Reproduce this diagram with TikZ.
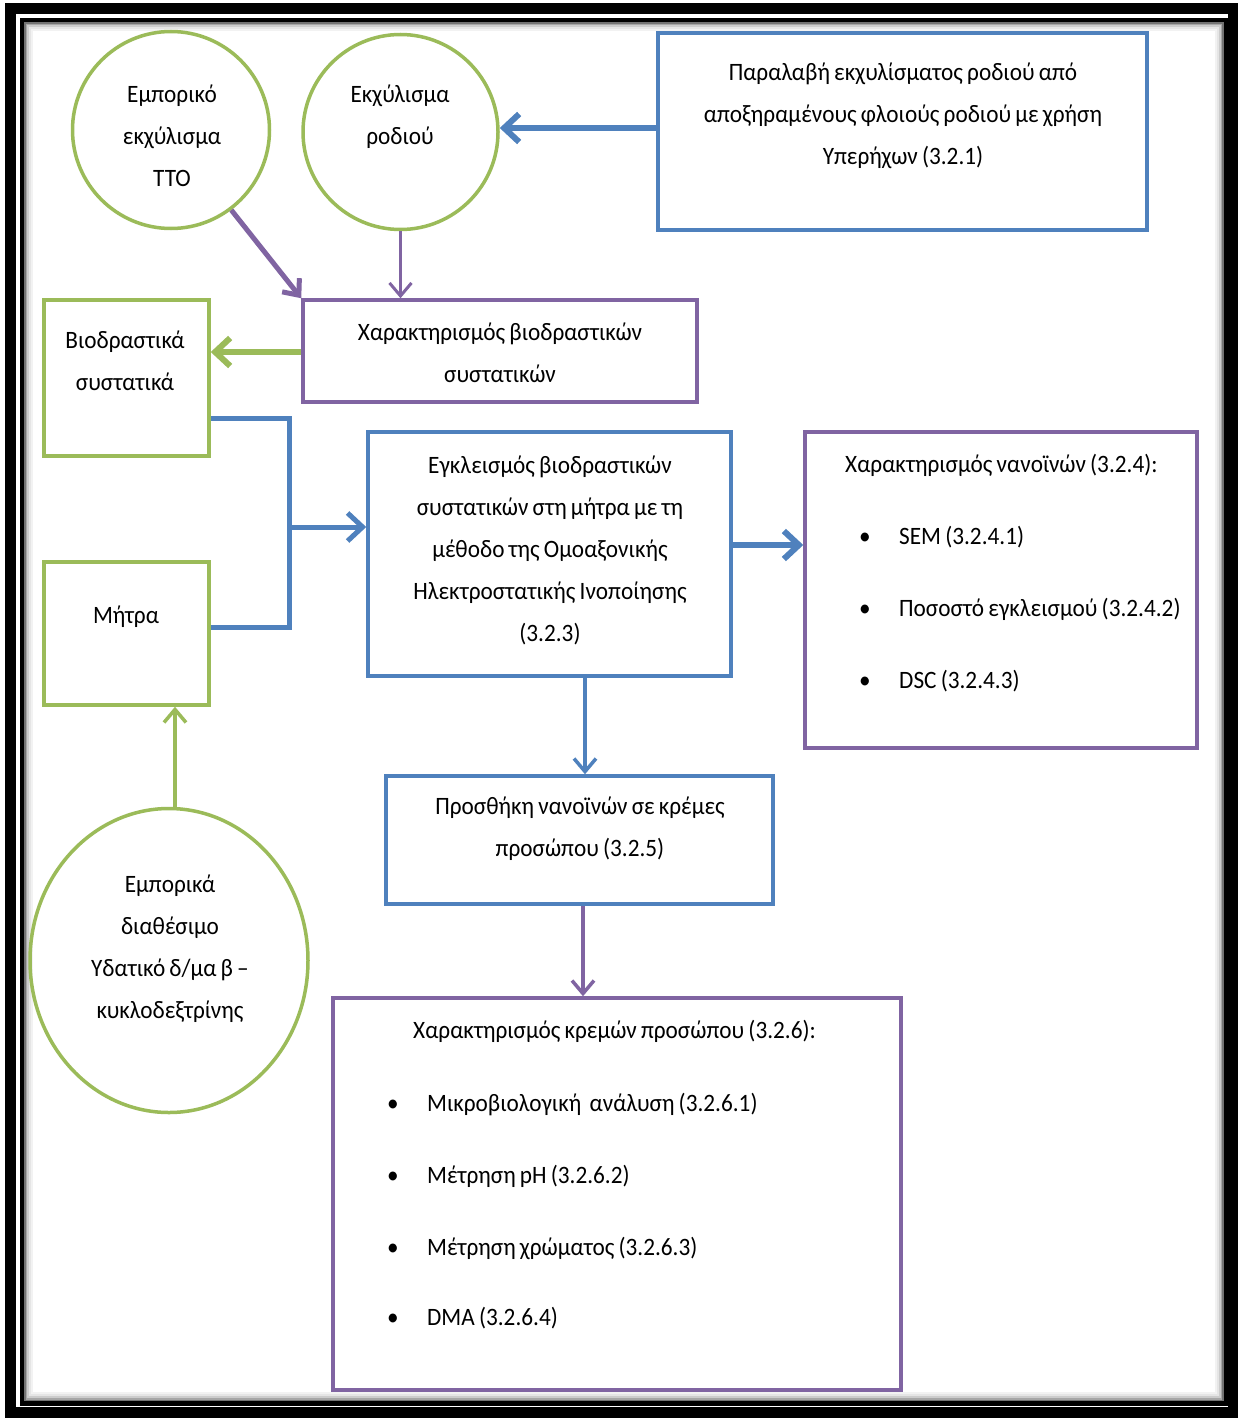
\documentclass[tikz,border=0pt]{standalone}
\usepackage{fontspec}
\setmainfont[FakeStretch=0.93,WordSpace=0.8]{Carlito}
\usetikzlibrary{arrows.meta,shapes.geometric,calc}
\definecolor{oblue}{HTML}{4F81BD}
\definecolor{ogreen}{HTML}{9BBB59}
\definecolor{opurple}{HTML}{8064A2}
\begin{document}
\begin{tikzpicture}[x=1pt,y=-1pt,
  bx/.style={draw=#1, line width=3.5pt, rectangle, inner sep=0},
  circ/.style={draw=ogreen, line width=3.5pt, circle, inner sep=0},
  txt/.style={inner sep=0, align=center, text=black, font=\fontsize{25}{42}\selectfont},
  ltxt/.style={inner sep=0, anchor=west, text=black, font=\fontsize{25}{42}\selectfont},
  bigarr/.style={draw=#1, line width=6pt, -{Straight Barb[length=15pt,width=28pt]}},
  smallarr/.style={draw=#1, line width=3.5pt, -{Straight Barb[length=13pt,width=22pt]}},
]
% page and frame
\fill[white] (0,0) rectangle (1238,1418);
\useasboundingbox (0,0) rectangle (1238,1418);
\draw[line width=11pt] (10,9) rectangle (1233,1412);
\foreach \d/\g in {10/5,8/10,6/20,4/35,2.5/55}{
  \draw[line width=2.2pt, black!\g!white] ($(22,20)+(\d,\d)$) rectangle ($(1226,1403.5)+(-\d,-\d)$);
}
\draw[line width=4.5pt] (22,20) rectangle (1226,1403.5);

% circles
\node[circ, minimum size=197pt] (tto) at (171,130) {};
\node[circ, minimum size=195pt] (rod) at (400.5,132) {};
\node[draw=ogreen, line width=3.5pt, ellipse, inner sep=0, minimum width=278pt, minimum height=304pt] (bc) at (169,960.5) {};

% boxes
\node[bx=oblue, minimum width=489pt, minimum height=197pt] (par) at (902.5,131.5) {};
\node[bx=opurple, minimum width=394pt, minimum height=102pt] (cb) at (500,351) {};
\node[bx=ogreen, minimum width=165pt, minimum height=156pt] (bio) at (126.5,378) {};
\node[bx=ogreen, minimum width=165pt, minimum height=143pt] (mat) at (126.5,633.5) {};
\node[bx=oblue, minimum width=363pt, minimum height=244pt] (enc) at (549.5,554) {};
\node[bx=opurple, minimum width=392pt, minimum height=316pt] (nan) at (1001,590) {};
\node[bx=oblue, minimum width=387pt, minimum height=128pt] (pros) at (579.5,840) {};
\node[bx=opurple, minimum width=568pt, minimum height=392pt] (crem) at (617,1194) {};

% texts
\node[txt] (ttot) at (172,136) {Εμπορικό\\εκχύλισμα\\TTO};
\node[txt] (rodt) at (400,116.5) {Εκχύλισμα\\ροδιού};
\node[txt] (part) at (903,115.5) {Παραλαβή εκχυλίσματος ροδιού από\\αποξηραμένους φλοιούς ροδιού με χρήση\\Υπερήχων (3.2.1)};
\node[txt] (cbt) at (500,353) {Χαρακτηρισμός βιοδραστικών\\συστατικών};
\node[txt] (biot) at (125,360.5) {Βιοδραστικά\\συστατικά};
\node[txt] (matt) at (126,617) {Μήτρα};
\node[txt] (enct) at (550,550) {Εγκλεισμός βιοδραστικών\\συστατικών στη μήτρα με τη\\μέθοδο της Ομοαξονικής\\Ηλεκτροστατικής Ινοποίησης\\(3.2.3)};
\node[ltxt] (nant) at (845,465) {Χαρακτηρισμός νανοϊνών (3.2.4):};
\node[ltxt] (nan1) at (859,537) {\makebox[40pt][l]{•}SEM (3.2.4.1)};
\node[ltxt] (nan2) at (859,609) {\makebox[40pt][l]{•}Ποσοστό εγκλεισμού (3.2.4.2)};
\node[ltxt] (nan3) at (859,681) {\makebox[40pt][l]{•}DSC (3.2.4.3)};
\node[txt] (prost) at (580,829) {Προσθήκη νανοϊνών σε κρέμες\\προσώπου (3.2.5)};
\node[ltxt] (cremt) at (413,1031) {Χαρακτηρισμός κρεμών προσώπου (3.2.6):};
\node[ltxt] (crem1) at (387,1104) {\makebox[40pt][l]{•}Μικροβιολογική\ \ ανάλυση (3.2.6.1)};
\node[ltxt] (crem2) at (387,1176) {\makebox[40pt][l]{•}Μέτρηση pH (3.2.6.2)};
\node[ltxt] (crem3) at (387,1248) {\makebox[40pt][l]{•}Μέτρηση χρώματος (3.2.6.3)};
\node[ltxt] (crem4) at (387,1318) {\makebox[40pt][l]{•}DMA (3.2.6.4)};
\node[txt] (bct) at (170,949) {Εμπορικά\\διαθέσιμο\\Υδατικό δ/μα β –\\κυκλοδεξτρίνης};

% helper coordinates
\coordinate (y128) at (0,128);
\coordinate (y352) at (0,352);
\coordinate (j1) at (289,418);
\coordinate (j2) at (289,627);
\coordinate (j3) at (289,527);
\coordinate (y545) at (0,545);
\coordinate (x585) at (585,0);
\coordinate (x583) at (583,0);
\coordinate (x175) at (175,0);

% connectors
\draw[bigarr=oblue] (par.west |- y128) -- (rod.east |- y128);
\draw[smallarr=opurple, line width=5pt] (tto.-53) -- (cb.north west);
\draw[smallarr=opurple, line width=3pt] (rod.south) -- (rod.south |- cb.north);
\draw[bigarr=ogreen] (cb.west |- y352) -- (bio.east |- y352);
\draw[draw=oblue, line width=5pt] (bio.east |- j1) -- (j1) -- (j2) -- (mat.east |- j2);
\draw[bigarr=oblue, line width=5pt] (j3) -- (enc.west |- j3);
\draw[bigarr=oblue] (enc.east |- y545) -- (nan.west |- y545);
\draw[smallarr=oblue] (x585 |- enc.south) -- (x585 |- pros.north);
\draw[smallarr=opurple] (x583 |- pros.south) -- (x583 |- crem.north);
\draw[smallarr=ogreen] (x175 |- bc.north) -- (x175 |- mat.south);
\end{tikzpicture}
\end{document}
